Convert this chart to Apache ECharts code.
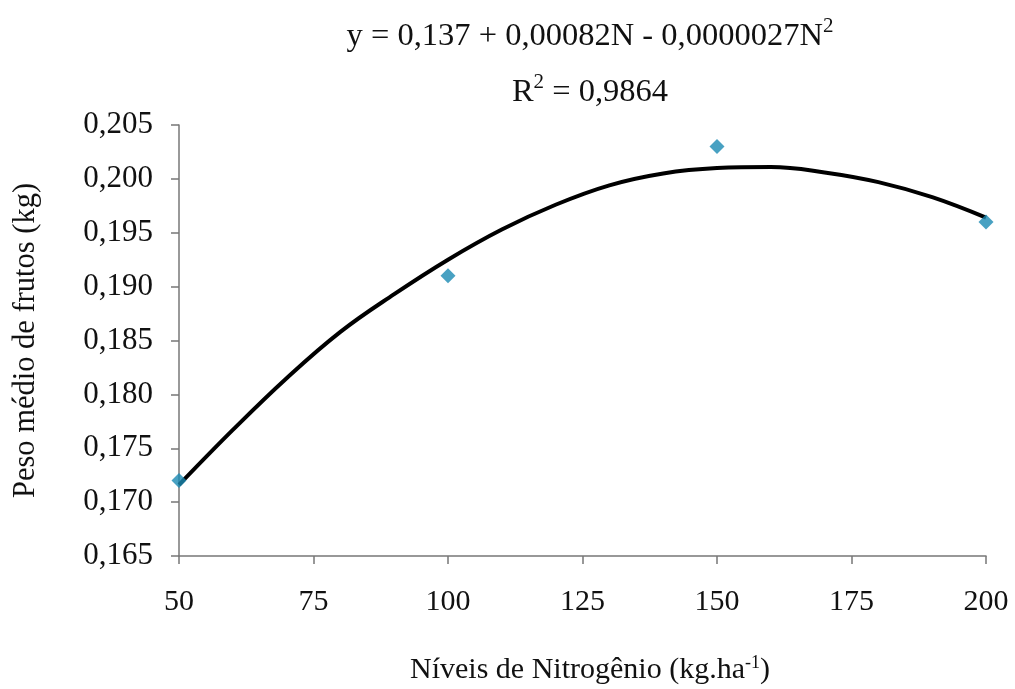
<!DOCTYPE html>
<html>
<head>
<meta charset="utf-8">
<script src="https://cdn.jsdelivr.net/npm/echarts@6/dist/echarts.min.js"></script>
<style>
html,body{margin:0;padding:0;background:#fff;}
#chart{width:1015px;height:689px;}
</style>
</head>
<body>
<div id="chart"></div>
<script>
// Observed points (N, mean fruit weight)
var obsN = [50, 100, 150, 200];
var obsW = [0.172, 0.191, 0.203, 0.196];

// Fitted curve
var curveN = [50, 60, 70, 80, 90, 100, 110, 120, 130, 140, 150, 160, 170, 180, 190, 200];
var curveW = [0.1716, 0.1767, 0.1815, 0.1858, 0.1893, 0.1925, 0.1953, 0.1976, 0.1994, 0.2005, 0.2010, 0.2011, 0.2006, 0.1997, 0.1983, 0.1964];

var xTicks = [50, 75, 100, 125, 150, 175, 200];
var yTicks = [0.165, 0.170, 0.175, 0.180, 0.185, 0.190, 0.195, 0.200, 0.205];

var FONT = '"Liberation Serif", "DejaVu Serif", serif';

var chart = echarts.init(document.getElementById('chart'), null, {renderer: 'canvas'});

function zip(a, b) { return a.map(function (v, i) { return [v, b[i]]; }); }

var option = {
  backgroundColor: '#ffffff',
  animation: false,
  title: {
    left: 585,
    top: 3,
    textAlign: 'center',
    text: '{a|y = 0,137 + 0,00082N - 0,0000027N}{s|2}\n{a|R}{s|2}{a| = 0,9864}',
    textStyle: {
      fontWeight: 'normal',
      rich: {
        a: {fontFamily: FONT, fontSize: 32.5, fontWeight: 'normal', color: '#111', lineHeight: 56},
        s: {fontFamily: FONT, fontSize: 21, fontWeight: 'normal', color: '#111', lineHeight: 56, verticalAlign: 'top', padding: [8, 0, 0, 0]}
      }
    }
  },
  grid: {left: 179, right: 29, top: 125, bottom: 133, containLabel: false, outerBoundsMode: 'none'},
  xAxis: {
    type: 'value',
    min: xTicks[0],
    max: xTicks[xTicks.length - 1],
    interval: 25,
    name: '{a|Níveis de Nitrogênio (kg.ha}{s|-1}{a|)}',
    nameLocation: 'middle',
    nameGap: 95,
    nameTextStyle: {
      padding: [0, 0, 0, 15],
      rich: {
        a: {fontFamily: FONT, fontSize: 30, color: '#111', lineHeight: 38},
        s: {fontFamily: FONT, fontSize: 18, color: '#111', lineHeight: 38, verticalAlign: 'top', padding: [3, 0, 0, 0]}
      }
    },
    axisLine: {show: true, lineStyle: {color: '#777', width: 1.5}},
    axisTick: {show: true, inside: false, length: 8, lineStyle: {color: '#777', width: 1.5}},
    axisLabel: {margin: 31, fontFamily: FONT, fontSize: 30, color: '#111'},
    splitLine: {show: false}
  },
  yAxis: {
    type: 'value',
    min: yTicks[0],
    max: yTicks[yTicks.length - 1],
    interval: 0.005,
    name: 'Peso médio de frutos (kg)',
    nameLocation: 'middle',
    nameGap: 138,
    nameTextStyle: {fontFamily: FONT, fontSize: 30.5, color: '#111'},
    axisLine: {show: true, lineStyle: {color: '#777', width: 1.5}},
    axisTick: {show: true, inside: false, length: 8, lineStyle: {color: '#777', width: 1.5}},
    axisLabel: {
      margin: 26, fontFamily: FONT, fontSize: 31, color: '#111',
      formatter: function (v) { return v.toFixed(3).replace('.', ','); }
    },
    splitLine: {show: false}
  },
  series: [
    {
      type: 'line',
      data: zip(curveN, curveW),
      smooth: 0.4,
      showSymbol: false,
      lineStyle: {color: '#000', width: 4},
      z: 2
    },
    {
      type: 'scatter',
      data: zip(obsN, obsW),
      symbol: 'diamond',
      symbolSize: 15,
      clip: false,
      itemStyle: {color: '#1a8ab3'},
      z: 3
    }
  ]
};

chart.setOption(option);
</script>
</body>
</html>
